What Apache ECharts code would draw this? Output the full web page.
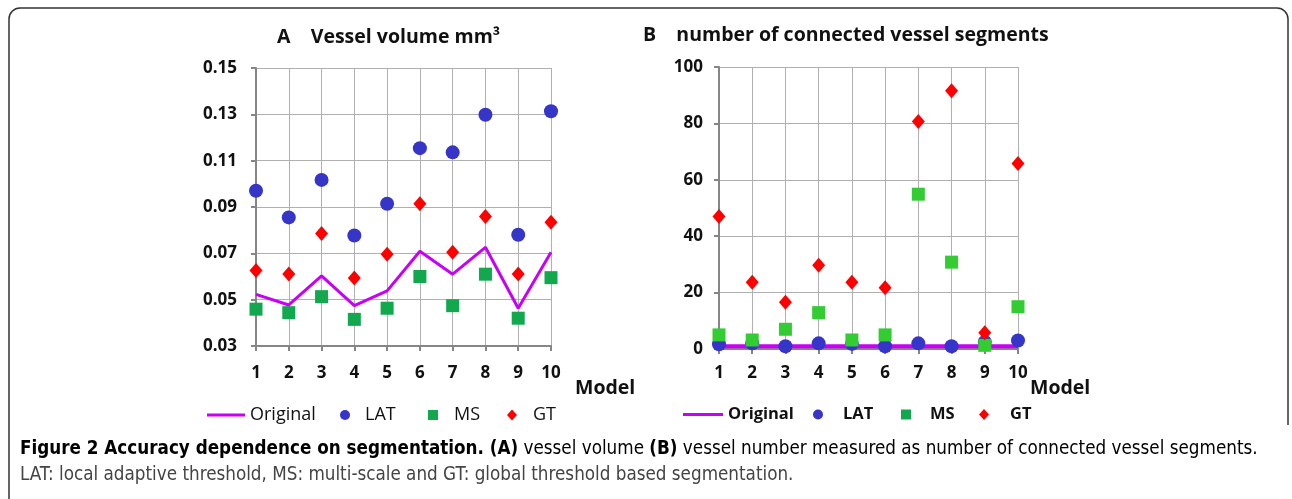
<!DOCTYPE html>
<html><head><meta charset="utf-8">
<script src="https://cdn.jsdelivr.net/npm/echarts@6/dist/echarts.min.js"></script>
<style>html,body{margin:0;padding:0;background:#fff;}#c{width:1292px;height:499px;}</style>
</head><body><div id="c"></div>
<script>
const models = ['1','2','3','4','5','6','7','8','9','10'];
// Panel A: vessel volume mm^3
const volOriginal = [0.0523,0.0477,0.0603,0.0474,0.0538,0.0709,0.0610,0.0726,0.0463,0.0705];
const volLAT = [0.0970,0.0855,0.1017,0.0777,0.0914,0.1154,0.1136,0.1298,0.0780,0.1313];
const volMS = [0.0459,0.0444,0.0513,0.0415,0.0463,0.0600,0.0474,0.0610,0.0420,0.0595];
const volGT = [0.0626,0.0611,0.0786,0.0594,0.0696,0.0914,0.0705,0.0859,0.0611,0.0834];
// Panel B: number of connected vessel segments
const segOriginal = [1,1,1,1,1,1,1,1,1,1];
const segLAT = [1.7,2,1,2,1.8,1,2,1,2.5,3];
const segMS = [5,3.2,7,12.9,3.2,5,54.9,30.8,1.3,15];
const segGT = [47,23.7,16.6,29.7,23.7,21.7,80.7,91.6,5.8,65.8];
const volTicks = [0.03,0.15,0.02];
const segTicks = [0,100,20];
const seriesNames = ['Original','LAT','MS','GT'];

const F = 'Open Sans';
const CAP = "'DejaVu Sans Condensed', 'Liberation Sans Narrow', 'DejaVu Sans', sans-serif";
const C = {orig:'#c800f5', lat:'#3535c8', msA:'#12a84e', msB:'#33cc33', gt:'#ff0000'};
const axisCommon = {
  axisLine:{show:true,lineStyle:{color:'#868686',width:2}},
  axisTick:{show:true,inside:false,length:5,lineStyle:{color:'#868686',width:2}},
  splitLine:{show:true,lineStyle:{color:'#b0b0b0',width:1}}
};
function leg(name, left, w, h, icon, pad, bold, size){
  return {left:left, top:406, padding:0, itemWidth:w, itemHeight:h, icon:icon,
    data:[name], textStyle:{fontFamily:F, fontWeight:bold?'bold':'normal', fontSize:size, color:'#111',
    padding:[0,0,0,pad]}};
}
const chart = echarts.init(document.getElementById('c'));
chart.setOption({
  animation:false,
  backgroundColor:'#fff',
  title:[
    {text:'A    Vessel volume mm³', left:272, top:22,
     textStyle:{fontFamily:F,fontWeight:'bold',fontSize:19.5,color:'#111'}},
    {text:'B    number of connected vessel segments', left:638, top:20,
     textStyle:{fontFamily:F,fontWeight:'bold',fontSize:19.5,color:'#111'}}
  ],
  grid:[
    {left:256, top:68, width:295, height:278},
    {left:719, top:67, width:299, height:282}
  ],
  xAxis:[
    Object.assign({type:'category',gridIndex:0,data:models,boundaryGap:false,
      axisLabel:{fontFamily:F,fontWeight:'bold',fontSize:17,color:'#111',margin:19,interval:0}},axisCommon),
    Object.assign({type:'category',gridIndex:1,data:models,boundaryGap:false,
      axisLabel:{fontFamily:F,fontWeight:'bold',fontSize:17,color:'#111',margin:16,interval:0}},axisCommon)
  ],
  yAxis:[
    Object.assign({type:'value',gridIndex:0,min:volTicks[0],max:volTicks[1],interval:volTicks[2],
      axisLabel:{fontFamily:F,fontWeight:'bold',fontSize:17,color:'#111',margin:19,
        formatter:v=>v.toFixed(2)}},axisCommon),
    Object.assign({type:'value',gridIndex:1,min:segTicks[0],max:segTicks[1],interval:segTicks[2],
      axisLabel:{fontFamily:F,fontWeight:'bold',fontSize:17,color:'#111',margin:16}},axisCommon)
  ],
  legend:[
    leg(seriesNames[0],207,38,3,'rect',0,false,18),
    leg(seriesNames[1],340,10,10,'circle',10,false,18),
    leg(seriesNames[2],428,10,10,'rect',11,false,18),
    leg(seriesNames[3],507,10,11,'diamond',11,false,18),
    leg(seriesNames[0],683,40,3,'rect',0,true,16.5),
    leg(seriesNames[1],813,10,10,'circle',15,true,16.5),
    leg(seriesNames[2],901,10,10,'rect',14,true,16.5),
    leg(seriesNames[3],979,10,11,'diamond',16,true,16.5)
  ],
  series:[
    {name:'Original',type:'line',xAxisIndex:0,yAxisIndex:0,data:volOriginal,symbol:'none',
     lineStyle:{color:C.orig,width:3},itemStyle:{color:C.orig},z:3},
    {name:'LAT',type:'scatter',xAxisIndex:0,yAxisIndex:0,data:volLAT,symbol:'circle',symbolSize:14,itemStyle:{color:C.lat,opacity:1}},
    {name:'MS',type:'scatter',xAxisIndex:0,yAxisIndex:0,data:volMS,symbol:'rect',symbolSize:13,itemStyle:{color:C.msA,opacity:1}},
    {name:'GT',type:'scatter',xAxisIndex:0,yAxisIndex:0,data:volGT,symbol:'diamond',symbolSize:[13,15],itemStyle:{color:C.gt,opacity:1}},
    {name:'Original',type:'line',xAxisIndex:1,yAxisIndex:1,data:segOriginal,symbol:'none',
     lineStyle:{color:C.orig,width:4},itemStyle:{color:C.orig},z:1},
    {name:'LAT',type:'scatter',xAxisIndex:1,yAxisIndex:1,data:segLAT,symbol:'circle',symbolSize:14,itemStyle:{color:C.lat,opacity:1}},
    {name:'MS',type:'scatter',xAxisIndex:1,yAxisIndex:1,data:segMS,symbol:'rect',symbolSize:13,itemStyle:{color:C.msB,opacity:1}},
    {name:'GT',type:'scatter',xAxisIndex:1,yAxisIndex:1,data:segGT,symbol:'diamond',symbolSize:[13,15],itemStyle:{color:C.gt,opacity:1}}
  ],
  graphic:[
    {type:'rect',z:-10,shape:{x:9,y:8,width:1279,height:540,r:11},
     style:{fill:'#fff',stroke:'#333',lineWidth:1.5}},
    {type:'rect',z:-9,shape:{x:1284,y:425,width:8,height:74},style:{fill:'#fff',stroke:null}},
    {type:'text',left:575,top:378,style:{text:'Model',fontFamily:F,fontWeight:'bold',fontSize:19.5,fill:'#111'}},
    {type:'text',left:1030,top:378,style:{text:'Model',fontFamily:F,fontWeight:'bold',fontSize:19.5,fill:'#111'}},
    {type:'text',left:20,top:440,style:{
      text:'{b|Figure 2 Accuracy dependence on segmentation. (A)}{n| vessel volume }{b|(B)}{n| vessel number measured as number of connected vessel segments.}',
      rich:{b:{fontFamily:CAP,fontWeight:'bold',fontSize:18.7,color:'#222'},
            n:{fontFamily:CAP,fontSize:18.7,color:'#444'}}}},
    {type:'text',left:20,top:466,style:{
      text:'LAT: local adaptive threshold, MS: multi-scale and GT: global threshold based segmentation.',
      fontFamily:CAP,fontSize:18.7,fill:'#444'}}
  ]
});
</script></body></html>
